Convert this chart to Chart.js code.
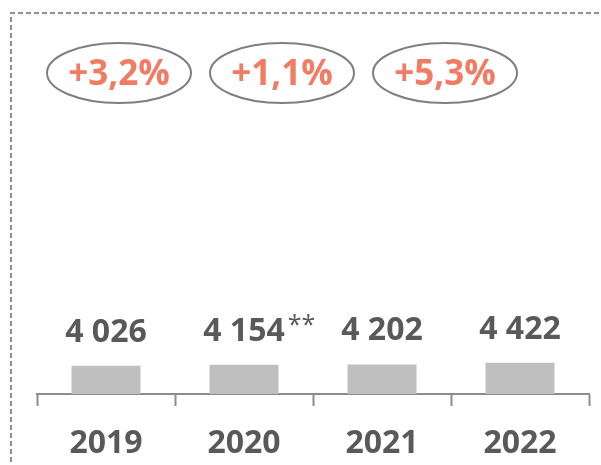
<!DOCTYPE html>
<html>
<head>
<meta charset="utf-8">
<script src="https://cdn.jsdelivr.net/npm/chart.js@4.4.1/dist/chart.umd.min.js"></script>
<style>
  html, body { margin: 0; padding: 0; background: #fff; }
  #wrap { width: 601px; height: 465px; }
</style>
</head>
<body>
<div id="wrap"><canvas id="chart_canvas" width="601" height="465"></canvas></div>
<script>
// données
const years = ['2019', '2020', '2021', '2022']
const totals = [4026, 4154, 4202, 4422]
const totalLabels = ['4 026', '4 154', '4 202', '4 422']
const notes = ['', '**', '', '']
const growth = ['+3,2%', '+1,1%', '+5,3%']

const grey = '#595959'
const salmon = '#F27B63'
const lineGrey = '#8c8c8c'
const fontFamily = "'Open Sans'"

// cadre pointillé autour du graphique
const frame = {
    id: 'frame',
    beforeDraw(chart) {
        const ctx = chart.ctx
        ctx.save()
        ctx.strokeStyle = '#8f8f8f'
        ctx.lineWidth = 2
        ctx.setLineDash([5, 3])
        ctx.beginPath()
        ctx.moveTo(11, chart.height + 5)
        ctx.lineTo(11, 13)
        ctx.lineTo(chart.width + 5, 13)
        ctx.stroke()
        ctx.restore()
    }
}

// valeurs au-dessus des barres
const barValues = {
    id: 'barValues',
    afterDatasetsDraw(chart) {
        const ctx = chart.ctx
        const meta = chart.getDatasetMeta(0)
        ctx.save()
        ctx.fillStyle = grey
        ctx.textAlign = 'center'
        ctx.textBaseline = 'alphabetic'
        meta.data.forEach((bar, i) => {
            ctx.font = 'bold 32px ' + fontFamily
            const txt = totalLabels[i]
            const y = bar.y - 24
            ctx.fillText(txt, bar.x, y)
            if (notes[i]) {
                const w = ctx.measureText(txt).width
                ctx.font = '25px ' + fontFamily
                ctx.textAlign = 'left'
                ctx.fillText(notes[i], bar.x + w / 2 + 3, y - 8)
                ctx.textAlign = 'center'
            }
        })
        ctx.restore()
    }
}

// bulles d'évolution
const growthBubbles = {
    id: 'growthBubbles',
    afterDraw(chart) {
        const ctx = chart.ctx
        const left = chart.chartArea.left
        ctx.save()
        growth.forEach((g, i) => {
            const cx = left + 82 + i * 163
            const cy = 73
            ctx.beginPath()
            ctx.ellipse(cx, cy, 72, 30, 0, 0, Math.PI * 2)
            ctx.strokeStyle = '#7f7f7f'
            ctx.lineWidth = 2
            ctx.stroke()
            ctx.fillStyle = salmon
            ctx.font = 'bold 35px ' + fontFamily
            ctx.textAlign = 'center'
            ctx.textBaseline = 'alphabetic'
            ctx.fillText(g, cx, 85)
        })
        ctx.restore()
    }
}

const data = {
    labels: years,
    datasets: [{
        data: totals,
        backgroundColor: '#bfbfbf',
        borderWidth: 0,
        categoryPercentage: 1,
        barPercentage: 0.5
    }]
}

const config = {
    type: 'bar',
    data,
    options: {
        responsive: false,
        animation: false,
        layout: {
            padding: { top: 42, left: 37, right: 12, bottom: 0 }
        },
        scales: {
            y: {
                display: false,
                min: 0,
                max: 50000
            },
            x: {
                afterFit: (axis) => { axis.height = 71 },
                border: { display: true, color: lineGrey, width: 2 },
                grid: {
                    drawOnChartArea: false,
                    drawTicks: true,
                    tickLength: 12,
                    tickColor: lineGrey,
                    tickWidth: 2,
                    color: lineGrey,
                    offset: true
                },
                ticks: {
                    color: grey,
                    padding: 19,
                    font: { family: 'Open Sans', size: 32, weight: 'bold' }
                }
            }
        },
        plugins: {
            legend: { display: false },
            tooltip: { enabled: false }
        }
    },
    plugins: [frame, barValues, growthBubbles]
}

new Chart(document.getElementById('chart_canvas').getContext('2d'), config)
</script>
</body>
</html>
